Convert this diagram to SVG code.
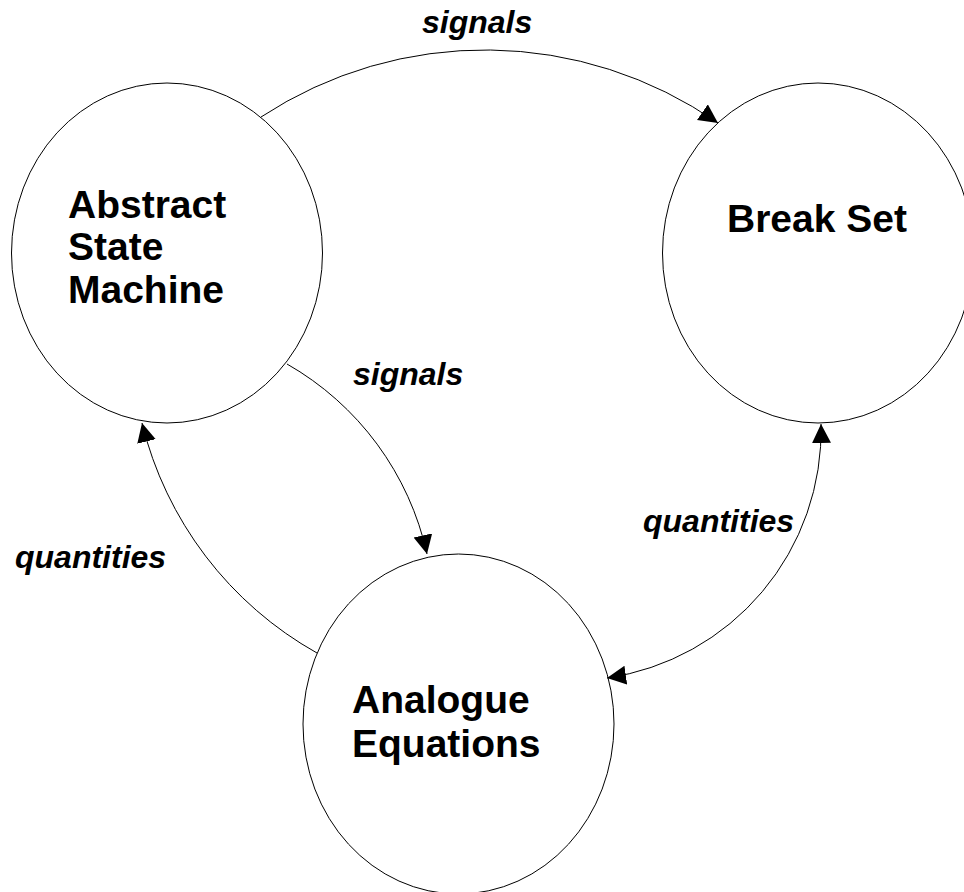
<svg xmlns="http://www.w3.org/2000/svg" width="964" height="892" viewBox="0 0 964 892">
  <style>
    .node { fill: #ffffff; stroke: #000000; stroke-width: 1; }
    .ntext { font-family: "Liberation Sans", Arial, sans-serif; font-weight: bold; font-size: 39px; fill: #000000; }
    .edge { fill: none; stroke: #000000; stroke-width: 1; }
    .elabel { font-family: "Liberation Sans", Arial, sans-serif; font-weight: bold; font-style: italic; font-size: 32px; fill: #000000; }
  </style>
  <defs>
    <marker id="arrow" markerUnits="userSpaceOnUse" markerWidth="20" markerHeight="20" refX="19" refY="9.5" orient="auto-start-reverse">
      <path d="M0,0 L19,9.5 L0,19 z" fill="#000000"/>
    </marker>
  </defs>
  <rect x="0" y="0" width="964" height="892" fill="#ffffff"/>

  <g id="node-asm">
    <ellipse class="node" cx="167" cy="253" rx="155.5" ry="170"/>
    <text class="ntext" x="68" y="218">Abstract</text>
    <text class="ntext" x="68" y="260">State</text>
    <text class="ntext" x="68" y="303">Machine</text>
  </g>

  <g id="node-breakset">
    <ellipse class="node" cx="818" cy="253" rx="155.5" ry="170"/>
    <text class="ntext" x="727" y="232">Break Set</text>
  </g>

  <g id="node-analogue">
    <ellipse class="node" cx="458.5" cy="724" rx="155.5" ry="170"/>
    <text class="ntext" x="352" y="713">Analogue</text>
    <text class="ntext" x="352" y="757">Equations</text>
  </g>

  <g id="connectors">
    <path class="edge" d="M 261 117 A 408 408 0 0 1 718 123" marker-end="url(#arrow)"/>
    <path class="edge" d="M 287 364 A 291 291 0 0 1 427 554" marker-end="url(#arrow)"/>
    <path class="edge" d="M 317 653 A 363 363 0 0 1 142 423" marker-end="url(#arrow)"/>
    <path class="edge" d="M 607 678 A 250 250 0 0 0 821 424" marker-start="url(#arrow)" marker-end="url(#arrow)"/>
    <text class="elabel" x="422" y="33">signals</text>
    <text class="elabel" x="353" y="385">signals</text>
    <text class="elabel" x="15" y="568">quantities</text>
    <text class="elabel" x="643" y="532">quantities</text>
  </g>
</svg>
